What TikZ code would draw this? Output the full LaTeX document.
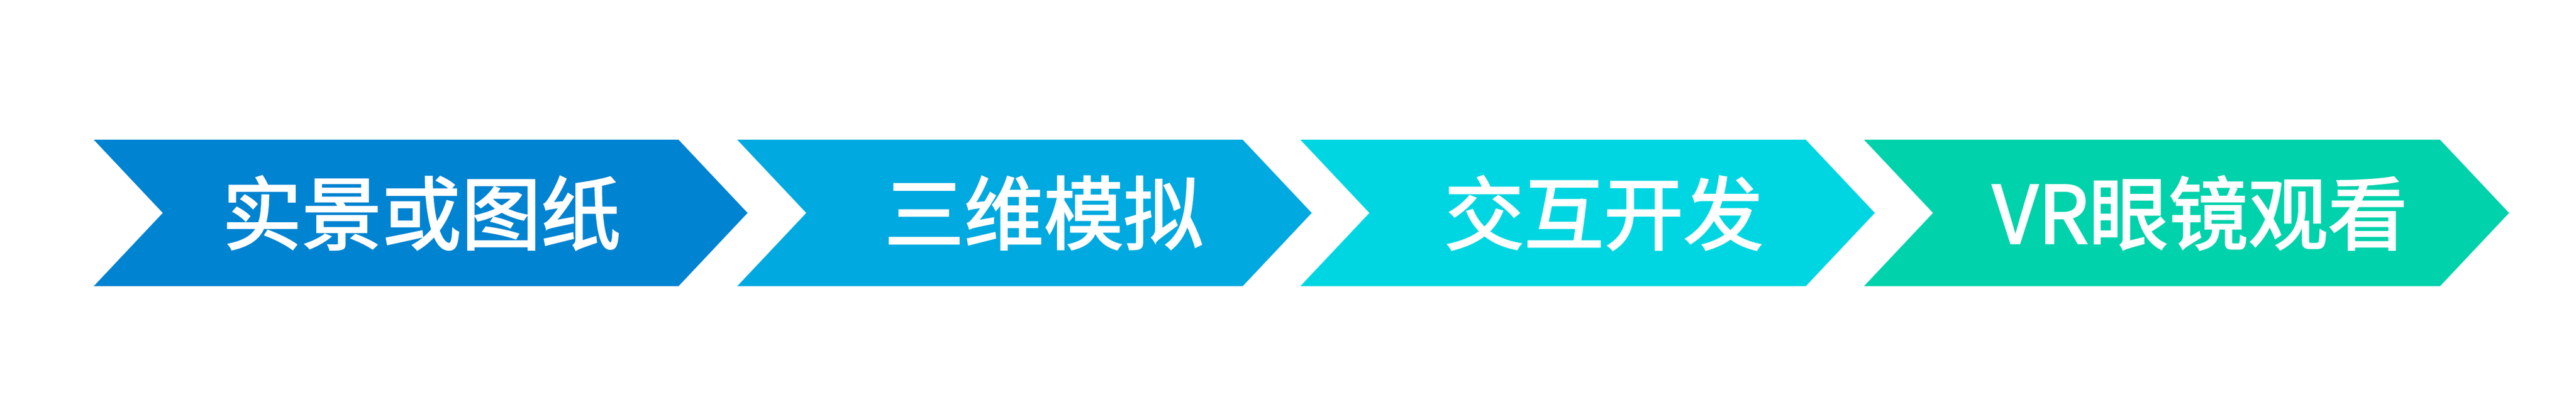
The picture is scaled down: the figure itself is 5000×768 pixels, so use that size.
\documentclass[tikz,border=0pt]{standalone}
\usepackage{fontspec}
\newfontfamily\cjkfont[FakeBold=2]{Noto Sans CJK SC}
\usetikzlibrary{positioning,calc}
\definecolor{stepone}{RGB}{0,131,209}
\definecolor{steptwo}{RGB}{0,169,223}
\definecolor{stepthree}{RGB}{0,214,225}
\definecolor{stepfour}{RGB}{0,210,171}
\begin{document}
\begin{tikzpicture}[x=0.01cm,y=-0.01cm,steplabel/.style={text=white,inner sep=0pt,font=\cjkfont\fontsize{44}{44}\selectfont}]
	\useasboundingbox (0,0) rectangle (5000,768);
	\foreach \xl/\xn/\xc/\xt/\col/\xm/\txt/\i in {182/316/1317/1451/stepone/818/实景或图纸/1,1431/1565/2412/2546/steptwo/2026/三维模拟/2,2524/2658/3505/3639/stepthree/3113/交互开发/3,3618/3752/4736/4870/stepfour/4270/VR眼镜观看/4}{
		\fill[\col] (\xl,271) -- (\xc,271) -- (\xt,413) -- (\xc,555) -- (\xl,555) -- (\xn,413) -- cycle;
		\node[steplabel] (s\i) at (\xm,413) {\txt};
	}
\end{tikzpicture}
\end{document}
